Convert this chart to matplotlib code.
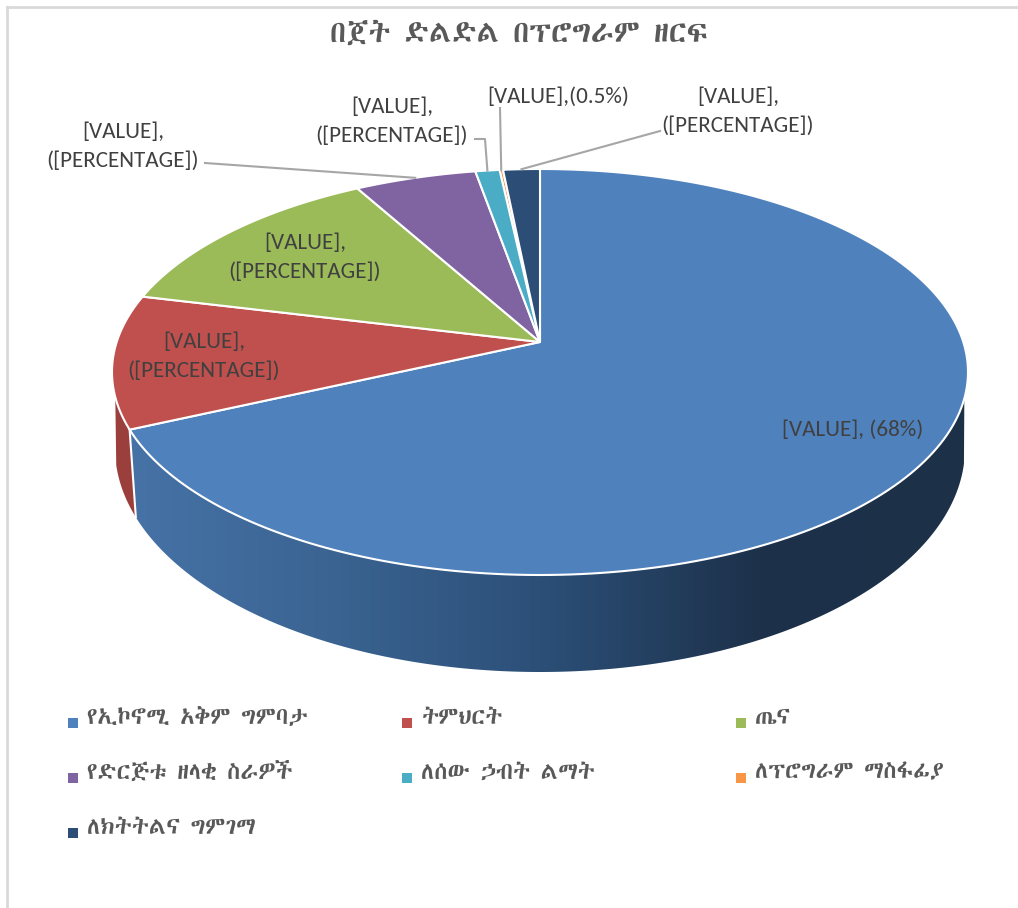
import numpy as np
import matplotlib
matplotlib.use('Agg')
import matplotlib.pyplot as plt
from matplotlib.colors import LinearSegmentedColormap
from matplotlib.patches import Polygon

plt.rcParams['font.family'] = ['Carlito', 'Lato', 'DejaVu Sans']
AMHARIC = ['Abyssinica SIL', 'Noto Sans Ethiopic', 'FreeSerif', 'DejaVu Sans']

title = 'በጀት ድልድል በፕሮግራም ዘርፍ'
categories = ['የኢኮኖሚ አቅም ግምባታ', 'ትምህርት', 'ጤና', 'የድርጅቱ ዘላቂ ስራዎች',
              'ለሰው ኃብት ልማት', 'ለፕሮግራም ማስፋፊያ', 'ለክትትልና ግምገማ']
shares = [68.2, 10.6, 13.1, 5.3, 1.05, 0.15, 1.6]
colors = ['#4f81bd', '#c0504d', '#9bbb59', '#8064a2', '#4bacc6', '#f79646', '#2c4d75']
data_labels = ['[VALUE], (68%)', '[VALUE],\n([PERCENTAGE])', '[VALUE],\n([PERCENTAGE])',
               '[VALUE],\n([PERCENTAGE])', '[VALUE],\n([PERCENTAGE])', '[VALUE],(0.5%)',
               '[VALUE],\n([PERCENTAGE])']
wall_shades = ['#4672a6', '#3a6391', '#2b4e76', '#1d314a', '#1c3048']


def project(ang, top, apex, bottom, halfw):
    # circle seen in perspective, angle runs clockwise from 12 o'clock
    u = np.sin(ang)
    v = np.cos(ang)
    c = (top + bottom - 2 * apex) / (bottom - top)
    a = top * (1 + c) - apex
    d = 1 + c * v
    R = halfw * np.sqrt(1 - c ** 2)
    return 540 + R * u / d, (a * v + apex) / d


def rim(ang):
    return project(ang, 169, 342, 575, 428)


def floor(ang):
    return project(ang, 224, 421, 672, 425)


def wall_outline(t, rim_y, floor_y):
    # keep only the part of both curves below the cut, the closing edge is the silhouette
    x1, y1 = rim(t)
    x2, y2 = floor(t)
    keep1 = y1 >= rim_y
    keep2 = y2 >= floor_y
    return np.c_[np.r_[x1[keep1], x2[keep2][::-1]], np.r_[y1[keep1], y2[keep2][::-1]]]


fig = plt.figure(figsize=(10.18, 9.08), dpi=100)
ax = fig.add_axes([0, 0, 1, 1])
ax.set_xlim(0, 1018)
ax.set_ylim(908, 0)
ax.axis('off')

# chart frame
ax.plot([7, 7], [908, 7], color='#d9d9d9', lw=2)
ax.plot([7, 1018], [7, 7], color='#d9d9d9', lw=2)

ax.text(519, 34, title, ha='center', va='center', fontsize=22, color='#595959', family=AMHARIC)

edges = np.cumsum([0] + shares) / sum(shares) * 2 * np.pi

# side wall: the big slice has a left to right gradient, the red one is flat
t = np.linspace(edges[0], edges[1], 400)
wall = Polygon(wall_outline(t, 397, 463), closed=True, transform=ax.transData, fc='none', ec='none')
ax.add_patch(wall)
cmap = LinearSegmentedColormap.from_list('wall', wall_shades)
im = ax.imshow(np.linspace(0, 1, 256)[None, :], cmap=cmap, extent=(130, 970, 680, 360),
               aspect='auto', zorder=2)
im.set_clip_path(wall)
ax.set_xlim(0, 1018)
ax.set_ylim(908, 0)

t = np.linspace(edges[1], edges[2], 200)
ax.fill(*wall_outline(t, 397, 465).T, color='#9b3f3d', lw=0, zorder=2)

# white seam between blue and red wall
x1, y1 = rim(edges[1])
x2, y2 = floor(edges[1])
ax.plot([x1, x2], [y1, y2], color='white', lw=1.5, zorder=3)

# top face, the thin orange slice goes under its neighbours' white edges
for i in sorted(range(len(shares)), key=lambda s: s != 5):
    t = np.linspace(edges[i], edges[i + 1], 200)
    x, y = rim(t)
    ax.fill(np.r_[540, x], np.r_[342, y], facecolor=colors[i], edgecolor='white',
            lw=1.5, joinstyle='round', zorder=4)

# leader lines end on the rim at the middle of the slice
mids = (edges[:-1] + edges[1:]) / 2
lead_from = {3: [(205, 163)], 4: [(475, 139), (485, 139)], 5: [(500, 108)], 6: [(660, 131)]}
for i, pts in lead_from.items():
    ex, ey = rim(mids[i])
    xs = [p[0] for p in pts] + [ex]
    ys = [p[1] for p in pts] + [ey]
    ax.plot(xs, ys, color='#a6a6a6', lw=1.5, zorder=5)

label_pos = [(853, 430), (204, 356), (305, 257), (123, 146), (392, 121), (558, 97), (738, 111)]
for (lx, ly), txt in zip(label_pos, data_labels):
    ax.text(lx, ly, txt, ha='center', va='center', fontsize=16.7, color='#404040',
            linespacing=1.55, zorder=6)

# legend, three columns
col_x = [68, 402, 736]
row_y = [723, 778, 833]
for i, name in enumerate(categories):
    lx = col_x[i % 3]
    ly = row_y[i // 3]
    ax.fill([lx, lx + 10, lx + 10, lx], [ly - 5, ly - 5, ly + 5, ly + 5], color=colors[i], lw=0)
    ax.text(lx + 19, ly - 6, name, ha='left', va='center', fontsize=17, color='#595959',
            family=AMHARIC)

fig.savefig('out.png', dpi=100)
